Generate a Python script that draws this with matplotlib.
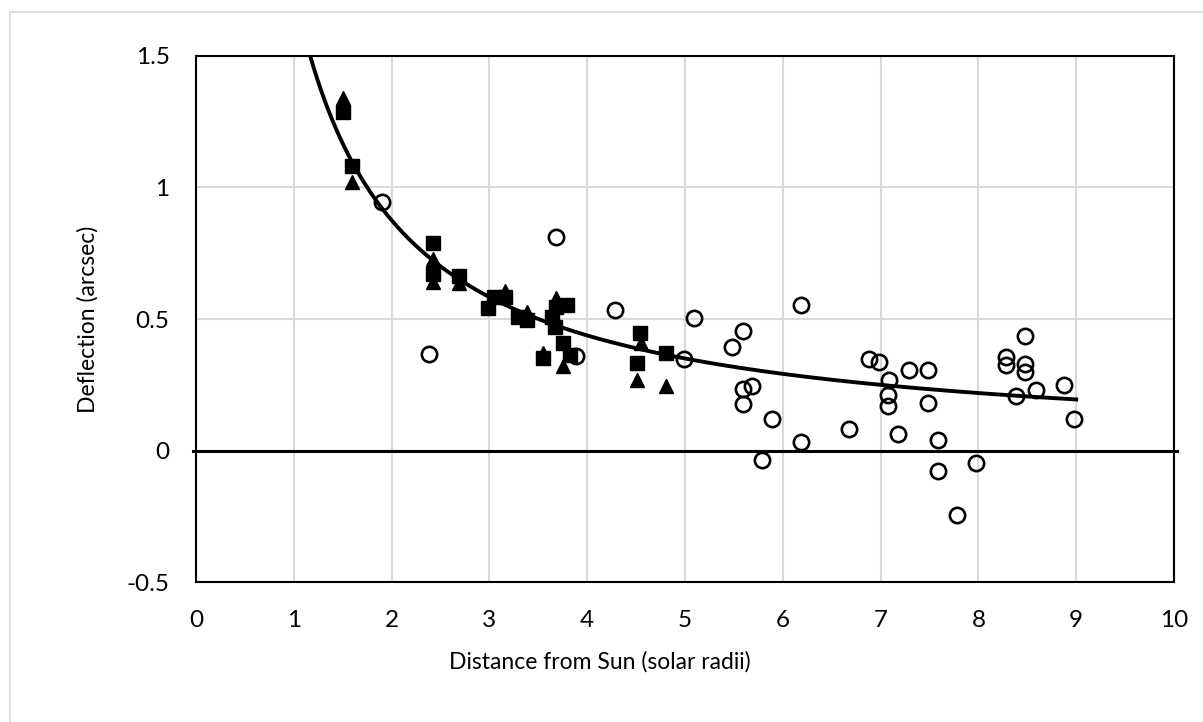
import numpy as np
import matplotlib
matplotlib.use("Agg")
import matplotlib.pyplot as plt
from matplotlib.lines import Line2D

plt.rcParams['font.family'] = ['Lato', 'DejaVu Sans']

# Open circles
circle_x = [1.9, 2.38, 3.68, 3.89, 4.28, 4.99, 5.09, 5.48, 5.59, 5.59, 5.69, 5.59,
            5.89, 5.79, 6.19, 6.19, 6.68, 6.88, 6.98, 7.09, 7.08, 7.08, 7.18, 7.29,
            7.48, 7.48, 7.59, 7.59, 7.78, 7.98, 8.28, 8.28, 8.38, 8.48, 8.48, 8.48,
            8.59, 8.88, 8.98]
circle_y = [0.944, 0.366, 0.81, 0.358, 0.534, 0.347, 0.503, 0.395, 0.454, 0.236, 0.246, 0.178,
            0.121, -0.036, 0.553, 0.032, 0.082, 0.347, 0.336, 0.268, 0.21, 0.17, 0.063, 0.306,
            0.306, 0.18, 0.041, -0.077, -0.243, -0.046, 0.357, 0.325, 0.208, 0.435, 0.329, 0.30,
            0.23, 0.248, 0.121]

# Filled squares
square_x = [1.5, 1.6, 2.42, 2.42, 2.69, 2.99, 3.05, 3.16, 3.29, 3.38, 3.55, 3.64,
            3.67, 3.68, 3.79, 3.75, 3.82, 4.54, 4.51, 4.81]
square_y = [1.288, 1.082, 0.788, 0.672, 0.665, 0.541, 0.585, 0.585, 0.509, 0.496, 0.35, 0.509,
            0.471, 0.547, 0.553, 0.41, 0.363, 0.448, 0.334, 0.37]

# Filled triangles
tri_x = [1.5, 1.6, 2.42, 2.42, 2.69, 3.16, 3.38, 3.55, 3.68, 3.75, 4.55, 4.51, 4.81]
tri_y = [1.34, 1.02, 0.726, 0.64, 0.636, 0.606, 0.528, 0.372, 0.579, 0.322, 0.41, 0.27, 0.245]

EINSTEIN_DEFLECTION = 1.75  # arcsec at the solar limb

x_ticks = [0, 1, 2, 3, 4, 5, 6, 7, 8, 9, 10]
y_ticks = [-0.5, 0, 0.5, 1, 1.5]
y_tick_labels = ['-0.5', '0', '0.5', '1', '1.5']

W, H = 1203, 722
fig = plt.figure(figsize=(W / 100, H / 100), dpi=100)
ax = fig.add_axes([196 / W, 1 - 582.3 / H, (1174 - 196) / W, (582.3 - 55.7) / H])

ax.set_xlim(0, 10)
ax.set_ylim(-0.5, 1.5)
ax.set_xticks(x_ticks)
ax.set_yticks(y_ticks)
ax.set_yticklabels(y_tick_labels)
ax.tick_params(length=0, labelsize=17.5)
ax.tick_params(axis='y', pad=19)
ax.tick_params(axis='x', pad=20)
ax.grid(True, color='#d9d9d9', linewidth=1.5)
ax.set_axisbelow(True)
for s in ax.spines.values():
    s.set_linewidth(1.5)
    s.set_color('black')

# zero line
ax.plot([-0.03, 10.03], [0, 0], color='black', linewidth=2.2, clip_on=False, zorder=2)

# theoretical curve
r = np.linspace(EINSTEIN_DEFLECTION / 1.5, 9, 400)
ax.plot(r, EINSTEIN_DEFLECTION / r, color='black', linewidth=2.8, zorder=3)

ax.plot(circle_x, circle_y, linestyle='none', marker='o', markersize=11,
        markerfacecolor='none', markeredgecolor='black', markeredgewidth=1.9, zorder=4)
ax.plot(square_x, square_y, linestyle='none', marker='s', markersize=9.5,
        color='black', zorder=5)
ax.plot(tri_x, tri_y, linestyle='none', marker='^', markersize=10.5,
        color='black', zorder=5)

fig.text(600 / W, 1 - 662 / H, 'Distance from Sun (solar radii)', ha='center', va='center',
         fontsize=16.5)
fig.text(88 / W, 1 - 319 / H, 'Deflection (arcsec)', ha='center', va='center',
         rotation=90, fontsize=16.5)

# chart border
fig.add_artist(Line2D([10 / W, 10 / W], [0, 1 - 12 / H], color='#d9d9d9', linewidth=1.2))
fig.add_artist(Line2D([10 / W, 1], [1 - 12 / H, 1 - 12 / H], color='#d9d9d9', linewidth=1.2))

fig.savefig('out.png', dpi=100)
